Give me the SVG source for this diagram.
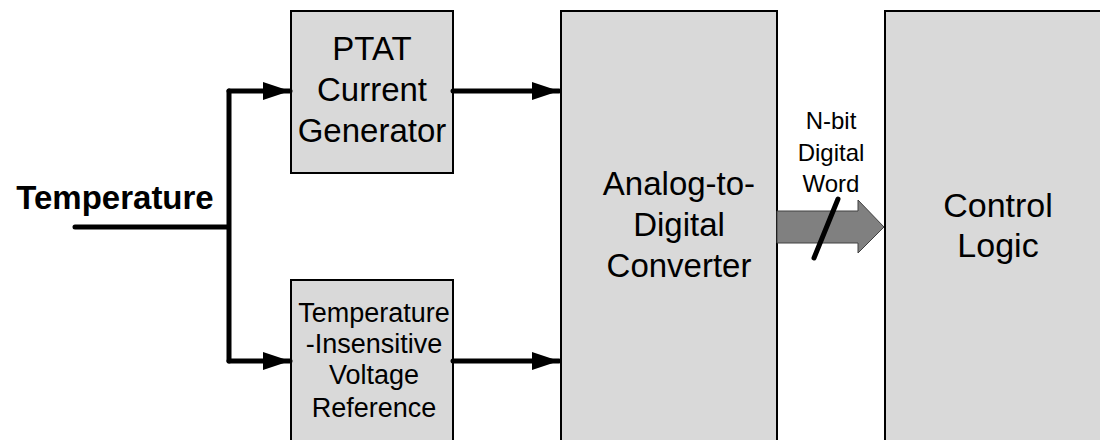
<svg xmlns="http://www.w3.org/2000/svg" width="1100" height="440" viewBox="0 0 1100 440">
<style>
.box{fill:#d9d9d9;stroke:#000;stroke-width:2}
.t{font-family:"Liberation Sans",Arial,sans-serif;fill:#000;text-anchor:middle}
.wire{fill:none;stroke:#000;stroke-width:5;stroke-linecap:round;stroke-linejoin:round}
</style>
<defs>
<marker id="ah" markerUnits="userSpaceOnUse" markerWidth="28" markerHeight="20" refX="27" refY="9" orient="auto">
<path d="M0,0 L27,9 L0,18 Z" fill="#000"/>
</marker>
</defs>
<rect width="1100" height="440" fill="#fff"/>
<g id="ptat">
<rect class="box" x="291" y="11" width="162" height="162"/>
<text class="t" font-size="33" x="372" y="60">PTAT</text>
<text class="t" font-size="33" x="372" y="101">Current</text>
<text class="t" font-size="33" x="372" y="142">Generator</text>
</g>
<g id="vref">
<rect class="box" x="291" y="280" width="162" height="170"/>
<text class="t" font-size="27" x="374" y="322">Temperature</text>
<text class="t" font-size="27" x="374" y="353">-Insensitive</text>
<text class="t" font-size="27" x="374" y="384">Voltage</text>
<text class="t" font-size="27" x="374" y="417">Reference</text>
</g>
<g id="adc">
<rect class="box" x="561" y="11" width="216" height="440"/>
<text class="t" font-size="33" x="679" y="195">Analog-to-</text>
<text class="t" font-size="33" x="679" y="236">Digital</text>
<text class="t" font-size="33" x="679" y="277">Converter</text>
</g>
<g id="control">
<rect class="box" x="885" y="11" width="230" height="440"/>
<text class="t" font-size="34" x="998" y="217">Control</text>
<text class="t" font-size="34" x="998" y="257">Logic</text>
</g>
<g id="temperature-label">
<text class="t" font-size="33" font-weight="bold" x="115" y="209">Temperature</text>
</g>
<g id="connectors">
<path class="wire" d="M75,227 H229 M229,91 V361"/>
<path class="wire" d="M229,91 H290" stroke-linecap="butt" marker-end="url(#ah)"/>
<path class="wire" d="M229,361 H290" stroke-linecap="butt" marker-end="url(#ah)"/>
<path class="wire" d="M453,91 H559" marker-end="url(#ah)"/>
<path class="wire" d="M453,361 H559" marker-end="url(#ah)"/>
<path d="M777,211 H858 V200 L884,227 L858,253 V243 H777 Z" fill="#808080" stroke="#404040" stroke-width="1"/>
<line x1="838" y1="199" x2="814" y2="258" stroke="#000" stroke-width="5" stroke-linecap="round"/>
<text class="t" font-size="24" x="831" y="129">N-bit</text>
<text class="t" font-size="24" x="831" y="161">Digital</text>
<text class="t" font-size="24" x="831" y="192">Word</text>
</g>
</svg>
